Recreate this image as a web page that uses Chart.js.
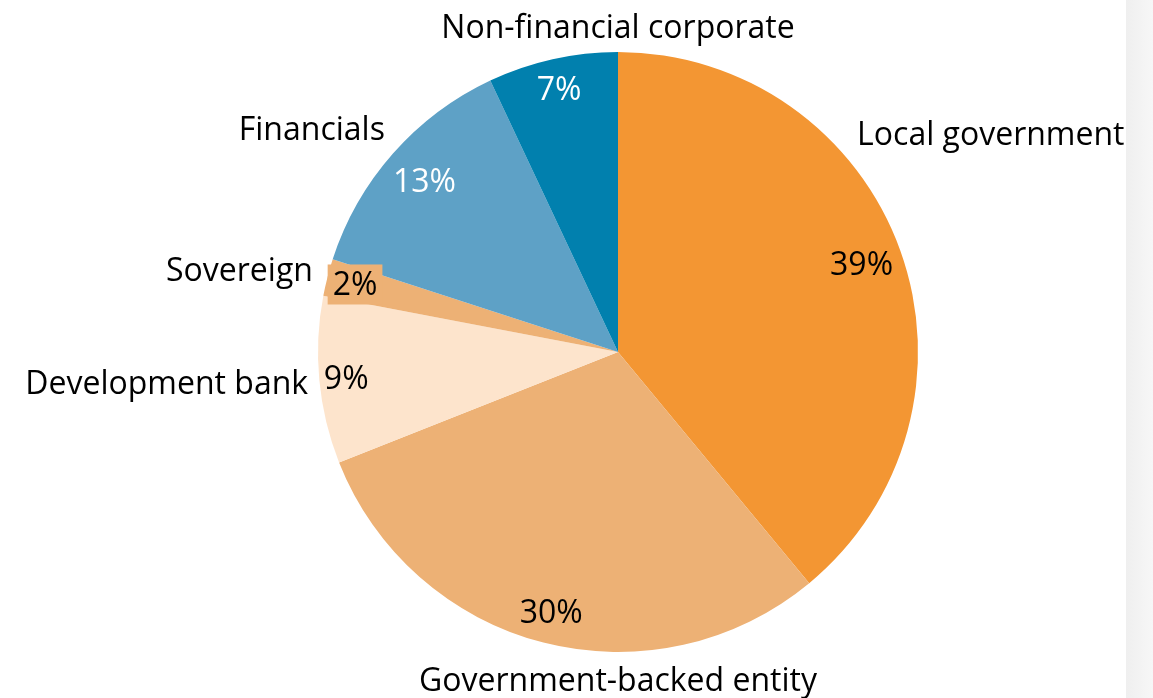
<!DOCTYPE html>
<html>
<head>
<meta charset="utf-8">
<title>Issuer type breakdown</title>
<script src="https://cdn.jsdelivr.net/npm/chart.js@4/dist/chart.umd.min.js"></script>
<style>
    html, body { margin: 0; padding: 0; background: #ffffff; }
    #wrap { position: relative; width: 1153px; height: 698px; overflow: hidden; }
    #sidebar {
        position: absolute; top: 0; right: 0; width: 27px; height: 100%;
        background: linear-gradient(to right, #efefef, #f7f7f7);
    }
    #issuerChart { position: absolute; top: 0; left: 0; }
</style>
</head>
<body>
<div id="wrap">
    <div id="sidebar"></div>
    <canvas id="issuerChart" width="1153" height="698"></canvas>
</div>
<script>
// Issuer categories and their share of the total (percent)
const categories = ['Local government', 'Government-backed entity', 'Development bank', 'Sovereign', 'Financials', 'Non-financial corporate'];
const shares = [39, 30, 9, 2, 13, 7];
const sliceColors = ['#F39633', '#EDB175', '#FDE4CC', '#EDB175', '#5EA1C6', '#0180AE'];
const percentColors = ['#000000', '#000000', '#000000', '#000000', '#ffffff', '#ffffff'];

// Where each percentage sits along its slice's mid angle (fraction of radius)
const percentRadius = [0.863, 0.895, 0.91, 0.905, 0.86, 0.9];
// Category name anchors, relative to pie centre in radius units (x, baseline y, align)
const nameAnchors = [
    [0.797, -0.69, 'left'],
    [0.0, 1.13, 'center'],
    [-1.033, 0.14, 'right'],
    [-1.017, -0.237, 'right'],
    [-0.777, -0.707, 'right'],
    [0.0, -1.047, 'center']
];

const FONT = '32px "Open Sans", "Noto Sans", sans-serif';

// Draws the category names outside and the percentages inside the slices
const sliceLabels = {
    id: 'sliceLabels',
    afterDatasetsDraw(chart) {
        const ctx = chart.ctx;
        const arcs = chart.getDatasetMeta(0).data;
        ctx.save();
        ctx.font = FONT;
        ctx.textBaseline = 'alphabetic';

        arcs.forEach((arc, i) => {
            const { x, y, startAngle, endAngle, outerRadius } = arc.getProps(['x', 'y', 'startAngle', 'endAngle', 'outerRadius'], true);
            const mid = (startAngle + endAngle) / 2;
            const r = outerRadius * percentRadius[i];
            const px = x + Math.cos(mid) * r;
            const py = y + Math.sin(mid) * r;
            const text = shares[i] + '%';
            const w = ctx.measureText(text).width;

            // the thin sliver gets a filled box behind its label
            if (shares[i] < 5) {
                ctx.fillStyle = sliceColors[i];
                ctx.fillRect(px - w / 2 - 5, py - 20, w + 10, 40);
            }
            ctx.fillStyle = percentColors[i];
            ctx.textAlign = 'center';
            ctx.fillText(text, px, py + 11);

            const [ax, ay, align] = nameAnchors[i];
            ctx.fillStyle = '#000000';
            ctx.textAlign = align;
            ctx.fillText(categories[i], x + ax * outerRadius, y + ay * outerRadius);
        });
        ctx.restore();
    }
};

new Chart(document.getElementById('issuerChart'), {
    type: 'pie',
    data: {
        labels: categories,
        datasets: [{
            data: shares,
            backgroundColor: sliceColors,
            borderWidth: 0
        }]
    },
    options: {
        responsive: false,
        animation: false,
        layout: {
            padding: { left: 318, right: 235, top: 52, bottom: 46 }
        },
        plugins: {
            legend: { display: false },
            tooltip: { enabled: false }
        }
    },
    plugins: [sliceLabels]
});
</script>
</body>
</html>
